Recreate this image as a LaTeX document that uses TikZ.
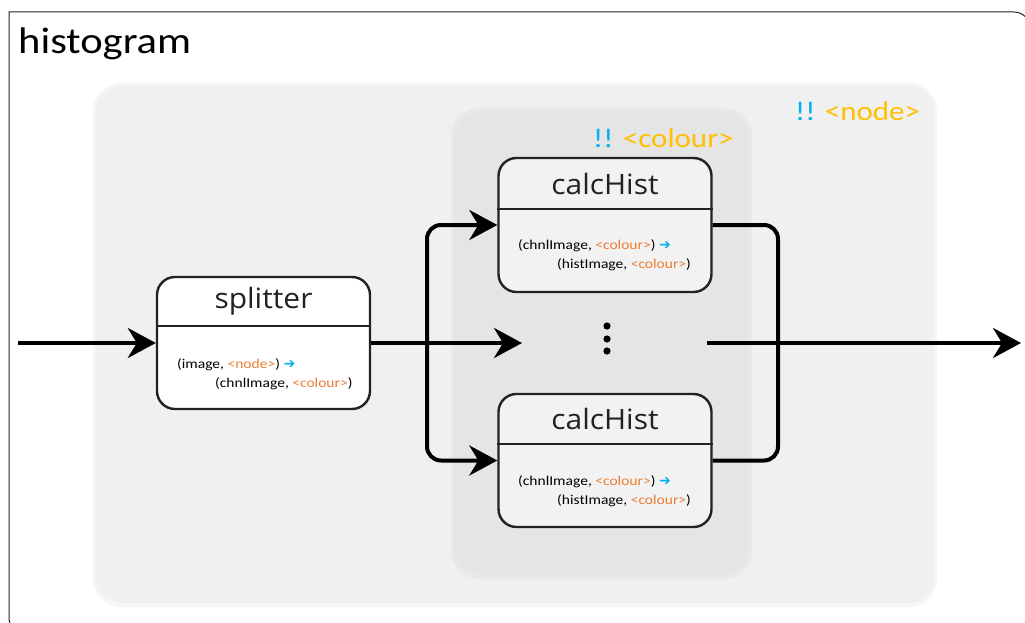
\documentclass[tikz,border=0pt]{standalone}
\usepackage{fontspec}
\setmainfont{Carlito}[FakeStretch=1.15]
\newfontfamily\titlefont{Open Sans}[FakeStretch=1.07]
\newfontfamily\symfont{DejaVu Sans}
\usetikzlibrary{arrows.meta}

\definecolor{panelA}{HTML}{F0F0F0}
\definecolor{panelArim}{HTML}{F5F5F5}
\definecolor{panelB}{HTML}{E5E5E5}
\definecolor{panelBrim}{HTML}{E9E9E9}
\definecolor{boxfill}{HTML}{F2F2F2}
\definecolor{bang}{HTML}{00B0F0}
\definecolor{tag}{HTML}{FFC000}
\definecolor{param}{HTML}{ED7D31}
\definecolor{ink}{HTML}{222222}

\tikzset{
  opbox/.style={draw=ink, line width=2.4pt, rounded corners=18pt,
    minimum width=213pt, inner sep=0pt},
  optitle/.style={font=\titlefont\fontsize{28}{30}\selectfont, text=ink, inner sep=0pt},
  sig/.style={font=\fontsize{13.5}{16}\selectfont, text=black, inner sep=0pt, anchor=base west},
  conn/.style={line width=4pt, black},
  flow/.style={conn, -{Stealth[length=28pt, width=30pt, inset=9pt]}},
  badge/.style={font=\fontsize{27}{30}\selectfont, inner sep=0pt, anchor=base west},
  frame/.style={ink, line width=1pt},
}
\newcommand{\flowarrow}{\textcolor{bang}{\symfont\fontsize{14}{14}\selectfont ➔}}

\begin{document}
\begin{tikzpicture}[x=1pt, y=-1pt]
\useasboundingbox (0,0) rectangle (1025,623);

% outer frame of the composite
\draw[frame] (1030,650) -- (1030,28) arc[start angle=0, end angle=90, radius=16pt]
  -- (9,12) -- (9,618) arc[start angle=180, end angle=270, radius=14pt] -- (60,632);
\node[anchor=base west, inner sep=0pt, font=\fontsize{37}{40}\selectfont] (name) at (18,54) {histogram};

% node panel and colour panel
\fill[panelArim, rounded corners=28pt] (93,83) rectangle (937,607);
\fill[panelA, rounded corners=26pt] (96,86) rectangle (934,603);
\fill[panelBrim, rounded corners=28pt] (451,108) rectangle (752,579);
\fill[panelB, rounded corners=26pt] (454,111) rectangle (749,575);

\node[badge] (nodetag) at (795,121) {\textcolor{bang}{!!} \textcolor{tag}{<node>}};
\node[badge] (colourtag) at (593,147) {\textcolor{bang}{!!} \textcolor{tag}{<colour>}};

% splitter
\node[opbox, fill=white, minimum height=132pt] (splitter) at (263.5,343) {};
\draw[ink, line width=2.4pt] (splitter.west |- 0,326) -- (splitter.east |- 0,326);
\node[optitle] (splitterT) at (263.5,301) {splitter};
\node[sig] (splitterA) at (177,368) {(image, \textcolor{param}{<node>}) \flowarrow};
\node[sig] (splitterB) at (215,387) {(chnlImage, \textcolor{param}{<colour>})};

% calcHist, upper
\node[opbox, fill=boxfill, minimum height=134pt] (histA) at (605,225) {};
\draw[ink, line width=2.4pt] (histA.west |- 0,209) -- (histA.east |- 0,209);
\node[optitle] (histAT) at (605,184) {calcHist};
\node[sig] (histAA) at (518,249) {(chnlImage, \textcolor{param}{<colour>}) \flowarrow};
\node[sig] (histAB) at (557,268) {(histImage, \textcolor{param}{<colour>})};

% calcHist, lower
\node[opbox, fill=boxfill, minimum height=133pt] (histB) at (605,460.5) {};
\draw[ink, line width=2.4pt] (histB.west |- 0,444) -- (histB.east |- 0,444);
\node[optitle] (histBT) at (605,419) {calcHist};
\node[sig] (histBA) at (518,485) {(chnlImage, \textcolor{param}{<colour>}) \flowarrow};
\node[sig] (histBB) at (557,504) {(histImage, \textcolor{param}{<colour>})};

% elided instances
\foreach \yy in {326,339,351} \fill (607,\yy) circle (3.6pt);

% connectors
\coordinate (src) at (18,343);
\coordinate (fork) at (427,343);
\coordinate (gapL) at (522,343);
\coordinate (gapR) at (707,343);
\coordinate (merge) at (778,343);
\coordinate (sink) at (1021,343);

\draw[flow] (src) -- (splitter.west);
\draw[flow] (splitter.east) -- (gapL);
\draw[flow, rounded corners=14pt] (fork) |- (histA.west);
\draw[flow, rounded corners=14pt] (fork) |- (histB.west);
\draw[conn, rounded corners=14pt] (histA.east) -| (merge) |- (histB.east);
\draw[flow] (gapR) -- (sink);
\end{tikzpicture}
\end{document}
